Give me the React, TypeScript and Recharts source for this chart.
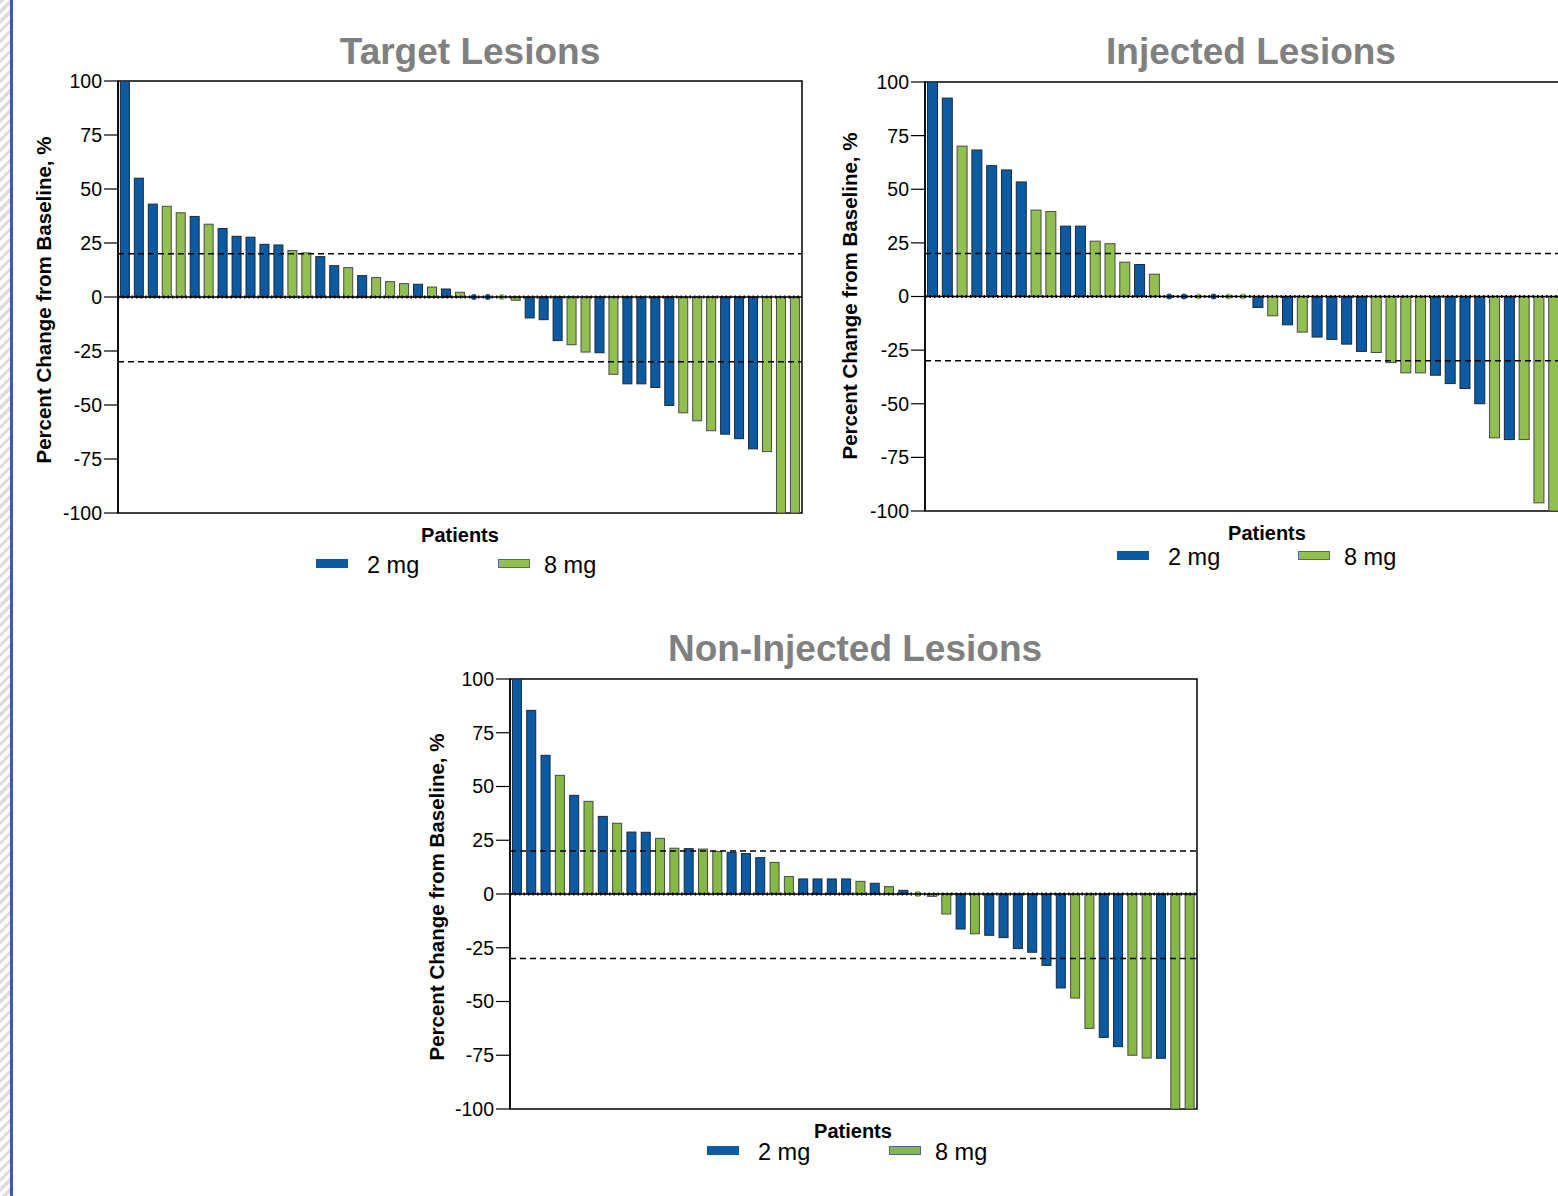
import React from 'react';
import { BarChart, Bar, XAxis, YAxis, ReferenceLine, ReferenceArea } from 'recharts';

const BLUE = '#0b5aa2';
const GREEN = '#92c050';
const GREEN_B = '#86b943';
const FONT = '"Liberation Sans", Arial, Helvetica, sans-serif';

const yTicks = [100, 75, 50, 25, 0, -25, -50, -75, -100];

// Target Lesions
const targetValues = [100, 55, 43, 42, 39, 37.3, 33.7, 31.7, 28.1, 27.7, 24.4, 24.1, 21.5, 20.4, 18.7, 14.5, 13.6, 9.9, 9.0, 7.1, 6.2, 5.9, 4.6, 3.7, 2.2, 0, 0, 0, -1.5, -9.7, -10.5, -20.2, -22.1, -25.5, -25.8, -35.8, -40.2, -40.2, -41.9, -50.2, -53.6, -57.3, -61.9, -63.5, -65.6, -70.3, -71.6, -100, -100];
const targetDoses = ['2', '2', '2', '8', '8', '2', '8', '2', '2', '2', '2', '2', '8', '8', '2', '2', '8', '2', '8', '8', '8', '2', '8', '2', '8', '2', '2', '8', '8', '2', '2', '2', '8', '8', '2', '8', '2', '2', '2', '2', '8', '8', '8', '2', '2', '2', '8', '8', '8'];

// Injected Lesions
const injectedValues = [100, 92.5, 70.1, 68.3, 61, 59, 53.4, 40.3, 39.6, 32.8, 32.8, 25.8, 24.6, 16, 14.9, 10.4, 0, 0, 0, 0, 0, 0, -5.1, -9, -13.2, -16.6, -18.9, -20, -22.2, -25.6, -26.1, -30.8, -35.6, -35.6, -36.7, -40.6, -42.9, -50, -65.9, -66.7, -66.7, -96.2, -100];
const injectedDoses = ['2', '2', '8', '2', '2', '2', '2', '8', '8', '2', '2', '8', '8', '8', '2', '8', '2', '2', '8', '2', '8', '8', '2', '8', '2', '8', '2', '2', '2', '2', '8', '8', '8', '8', '2', '2', '2', '2', '8', '2', '8', '8', '8'];

// Non-Injected Lesions
const nonInjectedValues = [100, 85.4, 64.5, 55.2, 45.9, 43.1, 36.1, 32.9, 28.8, 28.7, 25.9, 21.3, 21.1, 20.9, 19.8, 19.4, 18.8, 16.9, 14.7, 8.1, 7, 7, 7, 7, 5.9, 5, 3.4, 1.7, 0, -1.1, -9.3, -16.3, -18.5, -19.2, -20.3, -25.4, -27.1, -33.2, -43.7, -48.4, -62.5, -66.7, -71, -75, -76.3, -76.4, -100, -100];
const nonInjectedDoses = ['2', '2', '2', '8', '2', '8', '2', '8', '2', '2', '8', '8', '2', '8', '8', '2', '2', '2', '8', '8', '2', '2', '2', '2', '8', '2', '8', '2', '8', '8', '8', '2', '8', '2', '2', '2', '2', '2', '2', '8', '8', '2', '2', '8', '8', '2', '8', '8'];

const build = (values: number[], doses: string[]) =>
  values.map((v, i) => ({ patient: i + 1, value: v, dose: doses[i] }));

const makeShape = (green: string) => (props: any) => {
  const { x, y, width, height, payload } = props;
  const color = payload.dose === '2' ? BLUE : green;
  if (payload.value === 0) {
    return <circle cx={x + width / 2} cy={y} r={3} fill={color} />;
  }
  const top = Math.min(y, y + height);
  const h = Math.abs(height);
  return (
    <rect x={x} y={top} width={width} height={h} fill={color}
      stroke={payload.dose === '2' ? '#1c2a3a' : '#4a4a4a'} strokeWidth={1} />
  );
};

type PanelProps = {
  data: any[];
  left: number; top: number; width: number; height: number;
  margin: { top: number; right: number; bottom: number; left: number };
  green: string;
};

const Panel = ({ data, left, top, width, height, margin, green }: PanelProps) => (
  <div style={{ position: 'absolute', left, top, width, height }}>
    <BarChart width={width} height={height} data={data} margin={margin} barCategoryGap="17%">
      <XAxis dataKey="patient" hide />
      <YAxis
        domain={[-100, 100]}
        ticks={yTicks}
        allowDataOverflow
        interval={0}
        width={60}
        tickSize={14}
        tickMargin={2}
        axisLine={{ stroke: '#000', strokeWidth: 1.5 }}
        tickLine={{ stroke: '#000', strokeWidth: 1.2 }}
        tick={{ fill: '#000', fontSize: 19.5, fontFamily: FONT }}
      />
      <ReferenceArea y1={-100} y2={100} fill="none" stroke="#000" strokeWidth={1.5} ifOverflow="visible" />
      <ReferenceLine y={20} stroke="#000" strokeWidth={1.5} strokeDasharray="6 4" />
      <ReferenceLine y={-30} stroke="#000" strokeWidth={1.5} strokeDasharray="6 4" />
      <Bar dataKey="value" isAnimationActive={false} shape={makeShape(green)} />
      <ReferenceLine y={0} stroke="#000" strokeWidth={1.5} />
      <ReferenceLine y={0} stroke="#000" strokeWidth={3} strokeDasharray="1.5 3" />
    </BarChart>
  </div>
);

const Text = ({ x, y, size, bold, color, children, anchor = 'center', rotate = false }: any) => (
  <div
    style={{
      position: 'absolute',
      left: x,
      top: y,
      transform: rotate
        ? 'translate(-50%, -50%) rotate(-90deg)'
        : anchor === 'center' ? 'translate(-50%, -50%)' : 'translate(0, -50%)',
      fontFamily: FONT,
      fontSize: size,
      fontWeight: bold ? 'bold' : 'normal',
      color: color || '#000',
      whiteSpace: 'nowrap',
      lineHeight: 1,
    }}
  >
    {children}
  </div>
);

const Legend = ({ x1, x2, y, green }: any) => (
  <>
    <div style={{ position: 'absolute', left: x1, top: y - 5, width: 32, height: 9, background: BLUE }} />
    <Text x={x1 + 51} y={y + 2} size={23.5} anchor="left">2 mg</Text>
    <div style={{ position: 'absolute', left: x2, top: y - 5, width: 30, height: 7, background: green, border: '1px solid #4d6a8a' }} />
    <Text x={x2 + 46} y={y + 2} size={23.5} anchor="left">8 mg</Text>
  </>
);

export default function App() {
  const target = build(targetValues, targetDoses);
  const injected = build(injectedValues, injectedDoses);
  const nonInjected = build(nonInjectedValues, nonInjectedDoses);
  return (
    <div style={{ position: 'absolute', left: 0, top: 0, width: 1558, height: 1196, overflow: 'hidden', background: '#fff' }}>
      <div
        style={{
          position: 'absolute', left: 0, top: 0, width: 10, height: 1196,
          background: 'repeating-linear-gradient(135deg, #dcdcdc 0px, #dcdcdc 3px, #ffffff 3px, #ffffff 7px)',
        }}
      />
      <div style={{ position: 'absolute', left: 10, top: 0, width: 3, height: 1196, background: '#3d5d9c' }} />

      <Panel data={target} left={0} top={0} width={820} height={545}
        margin={{ top: 81, right: 18, bottom: 32, left: 58 }} green={GREEN} />
      <Text x={470} y={51} size={37} bold color="#808080">Target Lesions</Text>
      <Text x={44} y={300} size={20.5} bold rotate>Percent Change from Baseline, %</Text>
      <Text x={460} y={535} size={20} bold>Patients</Text>
      <Legend x1={316} x2={498} y={564} green={GREEN} />

      <Panel data={injected} left={840} top={0} width={740} height={545}
        margin={{ top: 82, right: 19, bottom: 34, left: 25 }} green={GREEN} />
      <Text x={1251} y={51} size={37} bold color="#808080">Injected Lesions</Text>
      <Text x={850} y={296} size={20.5} bold rotate>Percent Change from Baseline, %</Text>
      <Text x={1267} y={533} size={20} bold>Patients</Text>
      <Legend x1={1117} x2={1298} y={556} green={GREEN} />

      <Panel data={nonInjected} left={420} top={600} width={800} height={545}
        margin={{ top: 79, right: 23, bottom: 36, left: 30 }} green={GREEN_B} />
      <Text x={855} y={648} size={37} bold color="#808080">Non-Injected Lesions</Text>
      <Text x={437} y={897} size={20.5} bold rotate>Percent Change from Baseline, %</Text>
      <Text x={853} y={1131} size={20} bold>Patients</Text>
      <Legend x1={707} x2={889} y={1151} green={GREEN_B} />
    </div>
  );
}
